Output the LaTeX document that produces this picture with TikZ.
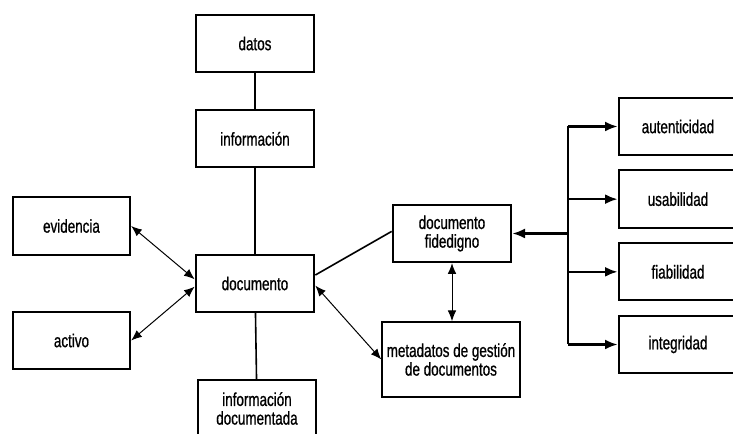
\documentclass[tikz,border=0pt]{standalone}
\usepackage{fontspec}
\setmainfont{Liberation Sans}[FakeStretch=0.72,FakeBold=0.8]
\usepackage{tikz}
\usetikzlibrary{arrows.meta}
\usetikzlibrary{positioning}

\begin{document}
\begin{tikzpicture}[x=0.75pt,y=-0.75pt,node distance=27pt,
    box node/.style={rectangle,draw,line width=1.5pt,minimum width=89pt,minimum height=43pt,
        align=center,font=\fontsize{14}{14}\selectfont},
    link/.style={line width=1.2pt},
    both/.style={line width=0.75pt,{Latex[length=8pt,width=6.5pt]}-{Latex[length=8pt,width=6.5pt]}},
    branch/.style={line width=1.8pt,-{Latex[length=9.5pt,width=7.5pt]}}]

        \clip (0,0) rectangle (733,434);

        \node[box node] (datos)       at (255,43.5)             {datos};
        \node[box node] (informacion) [below=of datos]          {información};
        \node[box node] (documento)   at (255,283.5)            {documento};
        \node[box node] (infodoc)     at (257,408.5)            {información\\documentada};
        \node[box node,minimum width=88pt] (evidencia) at (71.5,226)   {evidencia};
        \node[box node,minimum width=88pt] (activo)    at (71.5,340.5) {activo};
        \node[box node] (fidedigno)   at (452,233.5)            {documento\\fidedigno};
        \node[box node,minimum width=101pt,minimum height=56pt] (metadatos) at (451,359.5)
            {metadatos de gestión\\de documentos};

        \node[box node] (autenticidad) at (678,126.5)           {autenticidad};
        \node[box node] (usabilidad)   [below=10pt of autenticidad] {usabilidad};
        \node[box node] (fiabilidad)   [below=10pt of usabilidad]   {fiabilidad};
        \node[box node] (integridad)   [below=10pt of fiabilidad]   {integridad};

        \coordinate (hub) at (568,233.5);

          \path[link]
            (datos)       edge (informacion)
            (informacion) edge (documento)
            (documento)   edge (infodoc)
            (documento.8) edge (fidedigno.178);

          \path[both]
            (evidencia.east) edge (documento.176)
            (activo.east)    edge (documento.183)
            (documento.358)  edge (metadatos.west)
            (fidedigno.south) edge (fidedigno.south |- metadatos.north);

        \draw[branch] (hub) -- (fidedigno.east);
        \draw[line width=1.8pt] (hub |- autenticidad.west) -- (hub |- integridad.west);
        \foreach \b in {autenticidad,usabilidad,fiabilidad,integridad}
            \draw[branch] (hub |- \b.west) -- (\b.west);
\end{tikzpicture}
\end{document}
